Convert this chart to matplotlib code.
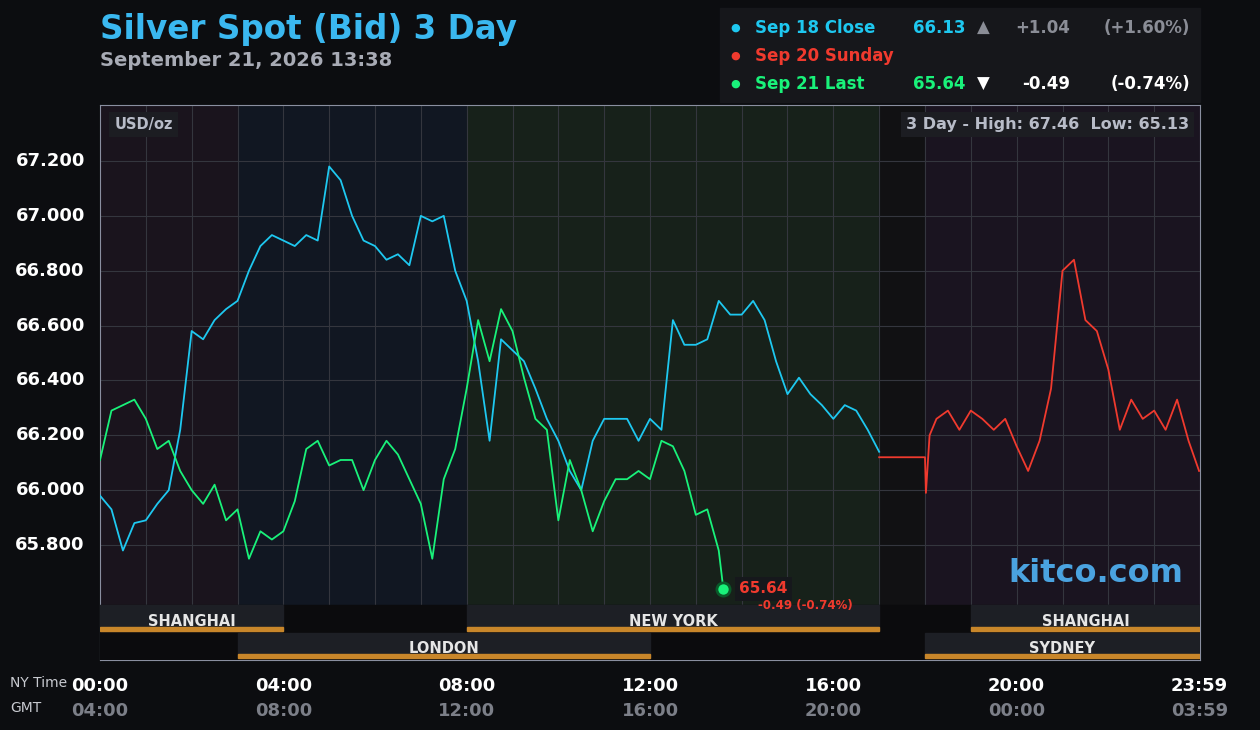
import matplotlib
matplotlib.use("Agg")
import matplotlib.pyplot as plt
from matplotlib.patches import Rectangle

# --- data (hours NY time, USD/oz) -------------------------------------------
cyan_hours = [i * 0.25 for i in range(69)]
cyan_vals = [65.98, 65.93, 65.78, 65.88, 65.89, 65.95, 66.00, 66.22, 66.58, 66.55,
             66.62, 66.66, 66.69, 66.80, 66.89, 66.93, 66.91, 66.89, 66.93, 66.91,
             67.18, 67.13, 67.00, 66.91, 66.89, 66.84, 66.86, 66.82, 67.00, 66.98,
             67.00, 66.80, 66.69, 66.47, 66.18, 66.55, 66.51, 66.47, 66.37, 66.26,
             66.18, 66.07, 66.00, 66.18, 66.26, 66.26, 66.26, 66.18, 66.26, 66.22,
             66.62, 66.53, 66.53, 66.55, 66.69, 66.64, 66.64, 66.69, 66.62, 66.47,
             66.35, 66.41, 66.35, 66.31, 66.26, 66.31, 66.29, 66.22, 66.14]

green_hours = [i * 0.25 for i in range(55)] + [13.6]
green_vals = [66.11, 66.29, 66.31, 66.33, 66.26, 66.15, 66.18, 66.07, 66.00, 65.95,
              66.02, 65.89, 65.93, 65.75, 65.85, 65.82, 65.85, 65.96, 66.15, 66.18,
              66.09, 66.11, 66.11, 66.00, 66.11, 66.18, 66.13, 66.04, 65.95, 65.75,
              66.04, 66.15, 66.37, 66.62, 66.47, 66.66, 66.58, 66.41, 66.26, 66.22,
              65.89, 66.11, 66.00, 65.85, 65.96, 66.04, 66.04, 66.07, 66.04, 66.18,
              66.16, 66.07, 65.91, 65.93, 65.78, 65.64]

red_hours = [17.0, 18.0, 18.02, 18.1] + [18.25 + i * 0.25 for i in range(23)] + [23.98]
red_vals = [66.12, 66.12, 65.99, 66.20,
            66.26, 66.29, 66.22, 66.29, 66.26, 66.22, 66.26, 66.16, 66.07, 66.18,
            66.37, 66.80, 66.84, 66.62, 66.58, 66.44, 66.22, 66.33, 66.26, 66.29,
            66.22, 66.33, 66.18, 66.07]

y_ticks = [65.8, 66.0, 66.2, 66.4, 66.6, 66.8, 67.0, 67.2]
x_ticks = [0, 4, 8, 12, 16, 20, 23.983]
ny_labels = ["00:00", "04:00", "08:00", "12:00", "16:00", "20:00", "23:59"]
gmt_labels = ["04:00", "08:00", "12:00", "16:00", "20:00", "00:00", "03:59"]

CYAN, GREEN, RED = "#1ec8f0", "#19f27a", "#f03a2e"
BG = "#0c0d10"

W, H = 1260, 730
fig = plt.figure(figsize=(W / 100, H / 100), dpi=100, facecolor=BG)
ax = fig.add_axes([100 / W, 70 / H, 1100 / W, 555 / H])
ax.set_facecolor("#0f1014")
ax.set_xlim(0, 24)
y_top = 67.2 + 56 / 274.3
y_bot = 67.2 - 499 / 274.3
ax.set_ylim(y_bot, y_top)

# session background shading
for x0, x1, c in [(0, 3, "#1a141d"), (3, 8, "#111722"), (8, 17, "#17211a"),
                  (17, 18, "#111113"), (18, 24, "#1a1420")]:
    ax.axvspan(x0, x1, color=c, zorder=0)

for h in range(1, 24):
    ax.axvline(h, color="#34363e", lw=0.8, zorder=1)
for v in y_ticks:
    ax.axhline(v, color="#34363e", lw=0.8, zorder=1)

ax.plot(red_hours, red_vals, color=RED, lw=1.3, zorder=3)
ax.plot(cyan_hours, cyan_vals, color=CYAN, lw=1.3, zorder=4)
ax.plot(green_hours, green_vals, color=GREEN, lw=1.3, zorder=5)
ax.scatter([green_hours[-1]], [green_vals[-1]], s=90, color=GREEN,
           edgecolor="#0a5a2a", lw=2, zorder=6)

# session bars at bottom
tr = ax.get_xaxis_transform()
row1 = (1 - (605 - 105) / 555, 1 - (633 - 105) / 555)
row2 = (1 - (633 - 105) / 555, 0.0)
ax.add_patch(Rectangle((0, row1[1]), 24, row1[0] - row1[1], transform=tr,
                       color="#0b0b0d", zorder=7))
ax.add_patch(Rectangle((0, 0), 24, row2[0], transform=tr, color="#0b0b0d", zorder=7))
for x0, x1, name, (top, bot) in [(0, 4, "SHANGHAI", row1), (8, 17, "NEW YORK", row1),
                                 (19, 24, "SHANGHAI", row1), (3, 12, "LONDON", row2),
                                 (18, 24, "SYDNEY", row2)]:
    ax.add_patch(Rectangle((x0, bot + 0.004), x1 - x0, top - bot - 0.004, transform=tr,
                           color="#1d1f25", zorder=8))
    ax.add_patch(Rectangle((x0, bot + 0.004), x1 - x0, 0.007, transform=tr,
                           color="#c8862a", zorder=9))
    ax.text((x0 + x1) / 2, (top + bot) / 2 - 0.004, name, transform=tr, ha="center",
            va="center", color="#e6e6e6", fontsize=10.5, fontweight="bold", zorder=10)

ax.set_xticks([])
ax.set_yticks([])
for s in ax.spines.values():
    s.set_color("#8a8fa0")
    s.set_linewidth(0.8)

# last price label
ax.text(green_hours[-1] + 0.35, green_vals[-1], f"{green_vals[-1]:.2f}", color=RED,
        fontsize=11, fontweight="bold", va="center", zorder=10,
        bbox=dict(boxstyle="square,pad=0.3", fc="#16181c", ec="none"))
ax.text(green_hours[-1] + 0.75, green_vals[-1] - 0.06, "-0.49 (-0.74%)", color=RED,
        fontsize=8.5, fontweight="bold", va="center", zorder=10)

ax.text(0.013, 0.965, "USD/oz", transform=ax.transAxes, color="#b8bcc8", fontsize=10.5,
        fontweight="bold", va="center",
        bbox=dict(boxstyle="square,pad=0.35", fc="#1c1d22", ec="none"))
ax.text(0.99, 0.965, "3 Day - High: 67.46  Low: 65.13", transform=ax.transAxes,
        color="#b8bcc8", fontsize=11.5, fontweight="bold", va="center", ha="right",
        bbox=dict(boxstyle="square,pad=0.3", fc="#1c1d22", ec="none"))
ax.text(0.985, 0.155, "kitco.com", transform=ax.transAxes, color="#4aa3e0",
        fontsize=23, fontweight="bold", ha="right", va="center", zorder=10)

# axis labels drawn as text in data/figure coords
for v in y_ticks:
    ax.text(-0.33, v, f"{v:.3f}", color="white", fontsize=13, fontweight="bold",
            ha="right", va="center", clip_on=False)
for h, a, b in zip(x_ticks, ny_labels, gmt_labels):
    ax.text(h, y_bot - 0.095, a, color="white", fontsize=13, fontweight="bold",
            ha="center", va="center", clip_on=False)
    ax.text(h, y_bot - 0.185, b, color="#7c7f88", fontsize=13, fontweight="bold",
            ha="center", va="center", clip_on=False)
fig.text(10 / W, 1 - 683 / H, "NY Time", color="#c8cad0", fontsize=10, va="center")
fig.text(10 / W, 1 - 708 / H, "GMT", color="#c8cad0", fontsize=10, va="center")

# titles
fig.text(100 / W, 1 - 30 / H, "Silver Spot (Bid) 3 Day", color="#3ab8f0",
         fontsize=23.5, fontweight="bold", va="center")
fig.text(100 / W, 1 - 60 / H, "September 21, 2026 13:38", color="#a8abb5",
         fontsize=14, fontweight="bold", va="center")

# legend box
fig.patches.append(Rectangle((720 / W, 1 - 102 / H), 480 / W, 94 / H,
                             transform=fig.transFigure, color="#16171b", zorder=0))
rows = [(28, CYAN, "Sep 18 Close", "66.13", "▲", "+1.04", "(+1.60%)", "#8a8d96"),
        (56, RED, "Sep 20 Sunday", "", "", "", "", "#8a8d96"),
        (84, GREEN, "Sep 21 Last", "65.64", "▼", "-0.49", "(-0.74%)", "white")]
for y, c, name, val, arrow, chg, pct, cc in rows:
    yy = 1 - y / H
    fig.text(735 / W, yy, "●", color=c, fontsize=8, va="center", ha="center")
    fig.text(755 / W, yy, name, color=c, fontsize=12, fontweight="bold", va="center")
    fig.text(965 / W, yy, val, color=c, fontsize=12, fontweight="bold", va="center",
             ha="right")
    fig.text(983 / W, yy, arrow, color=cc, fontsize=12, va="center", ha="center")
    fig.text(1070 / W, yy, chg, color=cc, fontsize=12, fontweight="bold", va="center",
             ha="right")
    fig.text(1190 / W, yy, pct, color=cc, fontsize=12, fontweight="bold", va="center",
             ha="right")

fig.savefig("out.png", dpi=100, facecolor=BG)
